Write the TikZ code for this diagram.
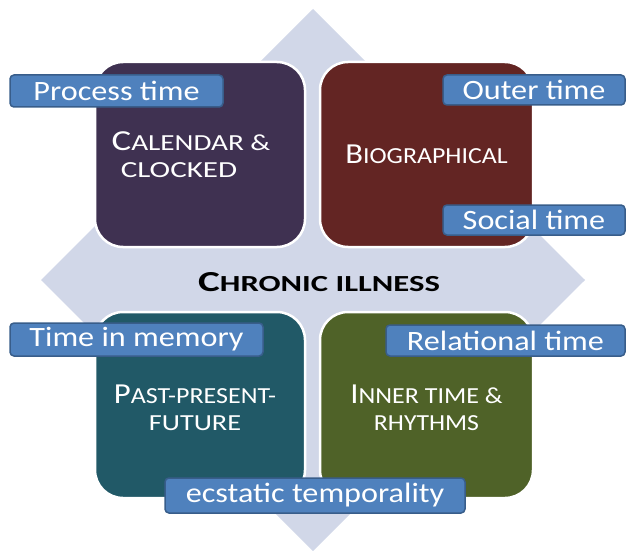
\documentclass[tikz,border=0pt]{standalone}
\usepackage{graphicx}
\usepackage{fontspec}
\setmainfont{Carlito}
\definecolor{diamondfill}{HTML}{D1D7E8}
\definecolor{purplebox}{HTML}{3F3151}
\definecolor{maroonbox}{HTML}{632523}
\definecolor{tealbox}{HTML}{215967}
\definecolor{olivebox}{HTML}{4F6228}
\definecolor{tagfill}{HTML}{4F81BD}
\definecolor{tagline}{HTML}{385D8A}
% faked small capitals: first letter full size, the rest reduced capitals, set wide
\newcommand{\bigsc}[3][1.2]{\scalebox{#1}[1]{{\fontsize{29}{27}\selectfont #2}{\fontsize{23}{27}\selectfont #3}}}
\newcommand{\widetag}[1]{\scalebox{1.15}[1]{#1}}
\begin{document}
\begin{tikzpicture}[x=1pt,y=-1pt,
  quad/.style={draw=white, line width=2.5pt, rounded corners=28pt, inner sep=0pt},
  quadtext/.style={text=white, align=center, font=\fontsize{23}{27}\selectfont},
  tag/.style={draw=tagline, line width=1.5pt, fill=tagfill, rounded corners=4pt,
    inner sep=0pt, text=white, font=\fontsize{28}{28}\selectfont},
]
\useasboundingbox (0,0) rectangle (627,551);
% background diamond
\fill[diamondfill] (313,9) -- (585,280) -- (313,551) -- (41,280) -- cycle;
% four quadrants
\node[quad, fill=purplebox, minimum width=210, minimum height=185] (cal) at (200,154.5) {};
\node[quad, fill=maroonbox, minimum width=213, minimum height=185] (bio) at (426.5,154.5) {};
\node[quad, fill=tealbox, minimum width=210, minimum height=186] (ppf) at (200,405) {};
\node[quad, fill=olivebox, minimum width=213, minimum height=186] (inner) at (426.5,405) {};
% quadrant titles
\node[quadtext] (calt) at ([xshift=-21pt]cal.center)
  {\hspace*{24pt}\bigsc[1.27]{C}{ALENDAR \&}\\\bigsc[1.35]{}{CLOCKED}};
\node[quadtext] (biot) at (bio.center) {\bigsc[1.125]{B}{IOGRAPHICAL}};
\node[quadtext] (ppft) at ([xshift=-5pt,yshift=-3pt]ppf.center)
  {\bigsc[1.13]{P}{AST-PRESENT-}\\\bigsc[1.23]{}{FUTURE}};
\node[quadtext] (innert) at ([yshift=-2.5pt]inner.center)
  {\bigsc[1.13]{I}{NNER TIME \&}\\\bigsc[1.12]{}{RHYTHMS}};
% centre title
\node[font=\bfseries] (chronic) at (319,282)
  {\scalebox{1.42}[1]{{\fontsize{29}{29}\selectfont C}{\fontsize{23}{23}\selectfont HRONIC ILLNESS}}};
% blue tags
\node[tag, minimum width=213, minimum height=32] (process) at (116.5,91) {\widetag{Process time}};
\node[tag, minimum width=182, minimum height=30] (outer) at (534,90) {\widetag{Outer time}};
\node[tag, minimum width=182, minimum height=30] (social) at (534,220) {\widetag{Social time}};
\node[tag, minimum width=253, minimum height=33] (memory) at (136.5,339.5) {\widetag{Time in memory}};
\node[tag, minimum width=239, minimum height=31] (relational) at (505.5,340.5) {\widetag{Relational time}};
\node[tag, minimum width=300, minimum height=35] (ecstatic) at (315,495.5) {\widetag{ecstatic temporality}};
\end{tikzpicture}
\end{document}
